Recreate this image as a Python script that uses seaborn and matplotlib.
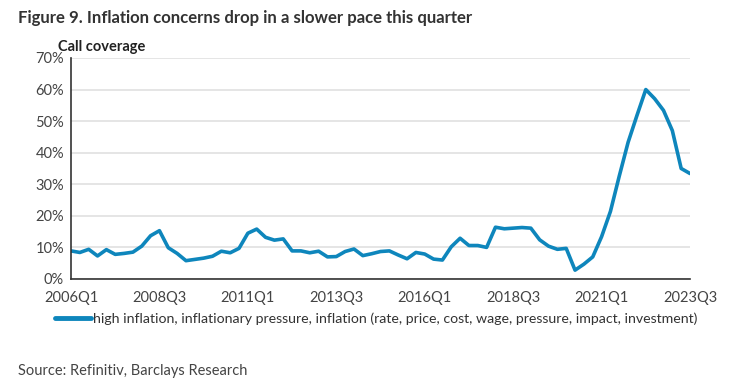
import numpy as np
import pandas as pd
import matplotlib
matplotlib.use("Agg")
import matplotlib.pyplot as plt
import seaborn as sns

# quarterly call coverage (%) 2006Q1 .. 2023Q3
years = [2006 + i // 4 for i in range(71)]
quarters = [f"{y}Q{i % 4 + 1}" for i, y in enumerate(years)]
coverage = [
    8.9, 8.4, 9.4, 7.3, 9.3, 7.8, 8.1, 8.5, 10.4, 13.7,
    15.3, 9.9, 8.1, 5.8, 6.2, 6.6, 7.2, 8.8, 8.3, 9.7,
    14.5, 15.8, 13.2, 12.3, 12.7, 8.9, 8.9, 8.3, 8.8, 7.0,
    7.1, 8.7, 9.5, 7.4, 8.0, 8.7, 8.9, 7.6, 6.4, 8.4,
    7.9, 6.3, 6.0, 10.2, 12.9, 10.6, 10.6, 10.0, 16.4, 15.9,
    16.1, 16.3, 16.1, 12.4, 10.4, 9.4, 9.7, 2.8, 4.7, 7.0,
    13.4, 21.4, 32.6, 43.3, 51.8, 60.0, 57.1, 53.4, 47.0, 35.0,
    33.4,
]
tick_labels = ["2006Q1", "2008Q3", "2011Q1", "2013Q3", "2016Q1",
               "2018Q3", "2021Q1", "2023Q3"]
series_name = ("high inflation, inflationary pressure, inflation "
               "(rate, price, cost, wage, pressure, impact, investment)")

df = pd.DataFrame({"quarter": quarters, "pos": range(len(quarters)),
                   "coverage": coverage, "series": series_name})

sns.set_style("white")
plt.rcParams["font.family"] = ["Lato", "DejaVu Sans"]

fig = plt.figure(figsize=(7.35, 3.89), dpi=100)
ax = fig.add_axes([0.0966, 0.2828, 0.8422, 0.5682])

sns.lineplot(data=df, x="pos", y="coverage", hue="series",
             palette=["#0E86BC"], linewidth=2.6, ax=ax)

ax.set_xlim(0, len(quarters) - 1)
ax.set_ylim(0, 70)
ax.set_yticks(range(0, 71, 10))
ax.set_yticklabels([f"{v}%" for v in range(0, 71, 10)])
tick_pos = [quarters.index(t) for t in tick_labels]
ax.set_xticks(tick_pos)
ax.set_xticklabels(tick_labels)
ax.set_xlabel("")
ax.set_ylabel("")

ax.yaxis.grid(True, color="#E3E3E3", linewidth=1.3)
ax.set_axisbelow(True)
for side in ["top", "right"]:
    ax.spines[side].set_visible(False)
for side in ["left", "bottom"]:
    ax.spines[side].set_color("#333333")
    ax.spines[side].set_linewidth(1.2)
ax.tick_params(axis="x", direction="out", length=5, width=1.2,
               color="#333333", labelsize=10.5, labelcolor="#444444", pad=4)
ax.tick_params(axis="y", direction="out", length=3, width=1.2,
               color="#333333", labelsize=10.5, labelcolor="#444444", pad=2)

leg = ax.legend(loc="upper center", bbox_to_anchor=(0.493, -0.095), frameon=False,
                fontsize=10.2, handlelength=2.5, handletextpad=0.15)
for t in leg.get_texts():
    t.set_color("#333333")
for h in leg.get_lines():
    h.set_linewidth(3.5)

fig.text(0.024, 0.955, "Figure 9. Inflation concerns drop in a slower pace this quarter",
         fontsize=12.1, fontweight="bold", color="#333333", va="center")
fig.text(0.079, 0.88, "Call coverage", fontsize=10.5, fontweight="bold",
         color="#222222", va="center")
fig.text(0.024, 0.047, "Source: Refinitiv, Barclays Research", fontsize=10.5,
         color="#444444", va="center")

fig.savefig("out.png", dpi=100)
